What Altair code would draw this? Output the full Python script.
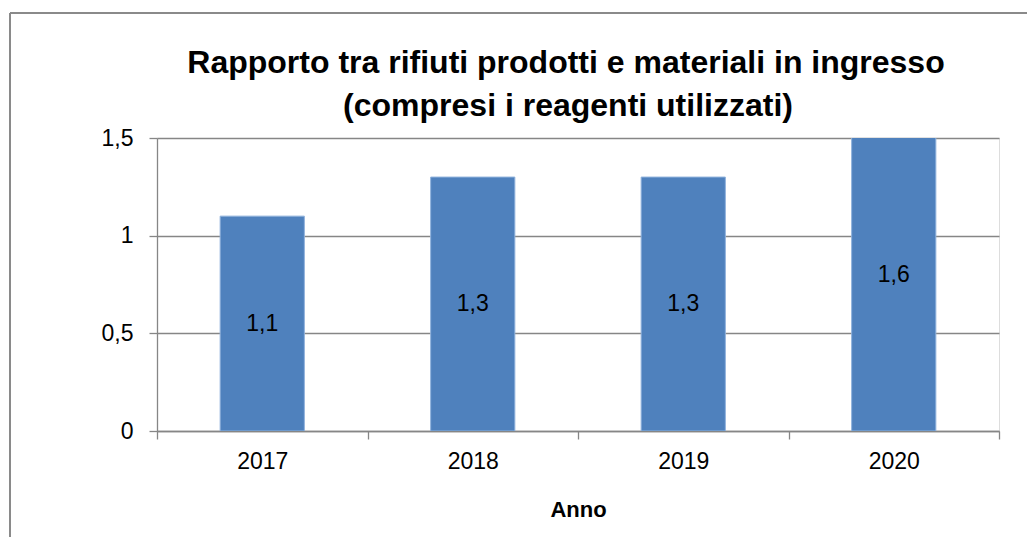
import altair as alt
import pandas as pd

anni = ["2017", "2018", "2019", "2020"]
valori = [1.1, 1.3, 1.3, 1.6]
titolo = ["Rapporto tra rifiuti prodotti e materiali in ingresso", "(compresi i reagenti utilizzati)"]
titolo_x = "Anno"
y_ticks = [0, 0.5, 1, 1.5]

df = pd.DataFrame({"Anno": anni, "valore": valori})

FONT = "Liberation Sans"
GRAY = "#868686"

base = alt.Chart(df)

x_enc = alt.X(
    "Anno:N",
    sort=anni,
    scale=alt.Scale(paddingInner=0, paddingOuter=0),
    axis=alt.Axis(
        title=titolo_x,
        labelAngle=0,
        tickBand="extent",
        ticks=True,
        tickSize=8,
        tickColor=GRAY,
        tickWidth=1.3,
        domainColor=GRAY,
        domainWidth=1.3,
        labelFont=FONT,
        labelFontSize=23,
        labelColor="black",
        labelPadding=11,
        titleFont=FONT,
        titleFontSize=22,
        titleFontWeight="bold",
        titleColor="black",
        titlePadding=26,
        grid=False,
    ),
)

y_enc = alt.Y(
    "valore:Q",
    scale=alt.Scale(domain=[0, 1.5], nice=False),
    axis=alt.Axis(
        title=None,
        values=y_ticks,
        labelExpr="replace(format(datum.value, '~g'), '.', ',')",
        tickSize=8,
        tickColor=GRAY,
        tickWidth=1.3,
        domainColor=GRAY,
        domainWidth=1.3,
        gridColor=GRAY,
        gridWidth=1.3,
        labelFont=FONT,
        labelFontSize=23,
        labelColor="black",
        labelPadding=16,
    ),
)

bars = base.mark_bar(
    color="#4F81BD",
    stroke="#8FB2DC",
    strokeWidth=1,
    clip=True,
    width=alt.RelativeBandSize(0.4),
).encode(x=x_enc, y=y_enc)

labels = base.transform_calculate(
    meta="datum.valore / 2",
    testo="replace(format(datum.valore, '.1f'), '.', ',')",
).mark_text(
    font=FONT, fontSize=23, color="black", baseline="middle", align="center"
).encode(
    x=alt.X("Anno:N", sort=anni),
    y=alt.Y("meta:Q"),
    text="testo:N",
)

title_df = pd.DataFrame({"riga1": [titolo[0]], "riga2": [titolo[1]]})
title1 = alt.Chart(title_df).mark_text(
    font=FONT, fontSize=32, fontWeight="bold", color="black",
    align="center", baseline="alphabetic",
).encode(x=alt.value(409), y=alt.value(-65), text="riga1:N")
title2 = alt.Chart(title_df).mark_text(
    font=FONT, fontSize=32, fontWeight="bold", color="black",
    align="center", baseline="alphabetic",
).encode(x=alt.value(411), y=alt.value(-22), text="riga2:N")

frame_top = alt.Chart(title_df).mark_rule(color="#8a8a8a", strokeWidth=2).encode(
    x=alt.value(-147), x2=alt.value(880), y=alt.value(-125)
)
frame_left = alt.Chart(title_df).mark_rule(color="#8a8a8a", strokeWidth=2).encode(
    x=alt.value(-147), y=alt.value(-125), y2=alt.value(410)
)

chart = alt.layer(bars, labels, title1, title2, frame_top, frame_left).properties(
    width=842,
    height=293,
    autosize=alt.AutoSizeParams(type="none"),
    padding={"left": 149, "top": 130, "right": 28, "bottom": 106},
).configure_view(stroke=None).configure(background="white")

chart.save("out.html", embed_options={"renderer": "svg", "actions": False})
